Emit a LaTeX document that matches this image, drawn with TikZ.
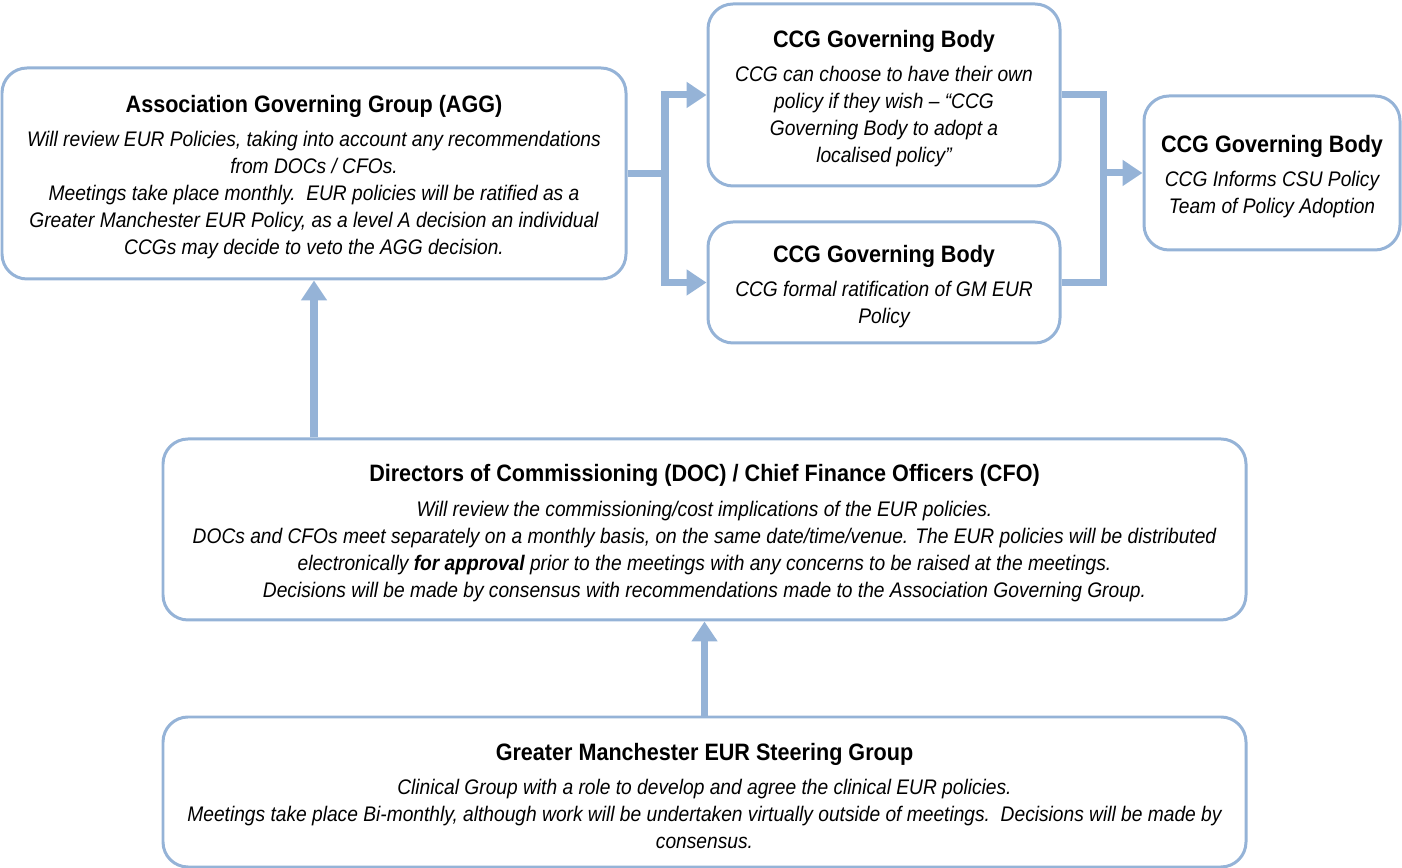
\documentclass[tikz,border=0pt]{standalone}
\usepackage{fontspec}
\setmainfont[FakeStretch=0.91]{Liberation Sans}
\usetikzlibrary{arrows.meta}
\definecolor{flowblue}{RGB}{149,179,215}
\newcommand{\boxhead}[1]{{\upshape\bfseries\fontsize{13.5}{15.4}\selectfont\rule{0pt}{14pt}#1}\\[4pt]}

\begin{document}
\begin{tikzpicture}[
    box/.style={draw=flowblue, line width=1.7pt, rounded corners=0.5cm, fill=white,
      align=center, inner sep=0pt, font=\fontsize{12}{15.4}\selectfont\itshape},
    link/.style={draw=flowblue, line width=4pt},
    arrow/.style={link, -{Triangle[length=0.4cm,width=0.5cm]}}]
  \useasboundingbox (0,0) rectangle (28.04,17.36);
  \node[box, minimum width=12.48cm, minimum height=4.22cm] (agg) at (6.28,13.89)
    {\boxhead{Association Governing Group (AGG)}
     Will review EUR Policies, taking into account any recommendations\\
     from DOCs / CFOs.\\
     Meetings take place monthly.\ \ EUR policies will be ratified as a\\
     Greater Manchester EUR Policy, as a level A decision an individual\\
     CCGs may decide to veto the AGG decision.};
  \node[box, minimum width=7.04cm, minimum height=3.64cm] (ccg1) at (17.68,15.46)
    {\boxhead{CCG Governing Body}
     CCG can choose to have their own\\
     policy if they wish -- ``CCG\\
     Governing Body to adopt a\\
     localised policy''};
  \node[box, minimum width=7.04cm, minimum height=2.42cm] (ccg2) at (17.68,11.71)
    {\boxhead{CCG Governing Body}
     CCG formal ratification of GM EUR\\
     Policy};
  \node[box, minimum width=5.12cm, minimum height=3.08cm] (ccg3) at (25.44,13.90)
    {\boxhead{CCG Governing Body}
     CCG Informs CSU Policy\\
     Team of Policy Adoption};
  \node[box, minimum width=21.66cm, minimum height=3.62cm] (doc) at (14.09,6.77)
    {\boxhead{Directors of Commissioning (DOC) / Chief Finance Officers (CFO)}
     Will review the commissioning/cost implications of the EUR policies.\\
     DOCs and CFOs meet separately on a monthly basis, on the same date/time/venue. The EUR policies will be distributed\\
     electronically \textbf{for approval} prior to the meetings with any concerns to be raised at the meetings.\\
     Decisions will be made by consensus with recommendations made to the Association Governing Group.};
  \node[box, minimum width=21.66cm, minimum height=3.0cm] (gm) at (14.09,1.52)
    {\boxhead{Greater Manchester EUR Steering Group}
     Clinical Group with a role to develop and agree the clinical EUR policies.\\
     Meetings take place Bi-monthly, although work will be undertaken virtually outside of meetings.\ \ Decisions will be made by\\
     consensus.};
  \coordinate (split) at (13.30,13.89);
  \coordinate (merge) at (22.06,13.90);
  \begin{scope}
    \draw[link] (agg.east) -- (split);
    \draw[arrow] (split) |- (ccg1.west);
    \draw[arrow] (split) |- (ccg2.west);
    \draw[link] (ccg1.east) -| (merge) |- (ccg2.east);
    \draw[arrow] (merge) -- (ccg3.west);
    \draw[arrow] (doc.north -| agg.south) -- (agg.south);
    \draw[arrow] (gm.north) -- (doc.south);
  \end{scope}
\end{tikzpicture}
\end{document}
